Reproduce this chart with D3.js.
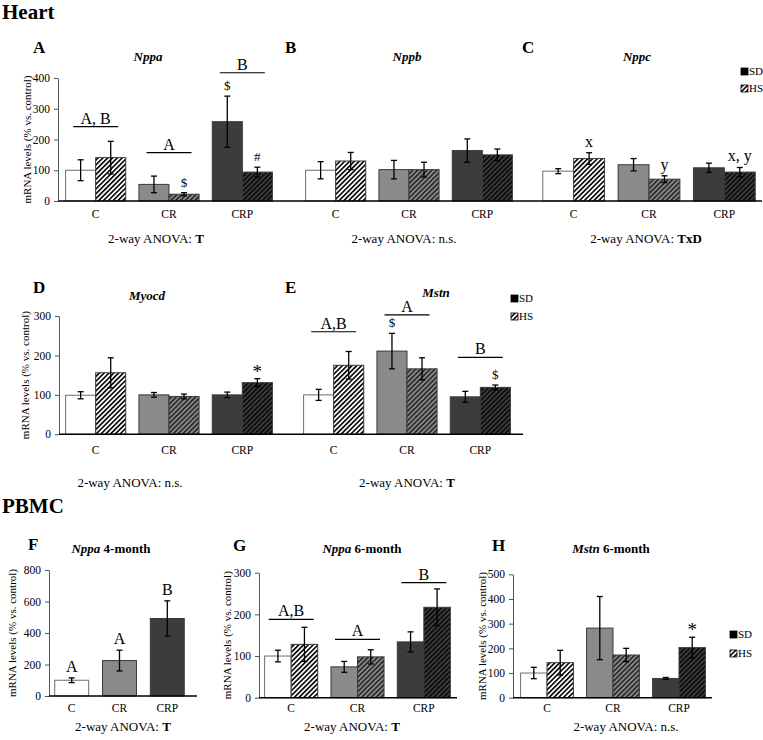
<!DOCTYPE html>
<html lang="en">
<head>
<meta charset="UTF-8">
<title>Heart and PBMC mRNA levels</title>
<script src="https://cdn.jsdelivr.net/npm/d3@7"></script>
<style>
  body { margin: 0; background: #fff; }
  svg { display: block; font-family: "Liberation Serif", "Times New Roman", serif; }
</style>
</head>
<body>
<div id="chart"></div>
<script>
  const groups = ["C", "CR", "CRP"];
  const diets = ["SD", "HS"];

  // Heart (mean and error, % vs. control)
  const nppaSD = [100, 54, 258], nppaSDErr = [34, 27, 83];
  const nppaHS = [141, 22, 94], nppaHSErr = [53, 5, 16];
  const nppbSD = [100, 102, 164], nppbSDErr = [28, 30, 38];
  const nppbHS = [130, 102, 150], nppbHSErr = [28, 24, 19];
  const nppcSD = [97, 118, 108], nppcSDErr = [8, 20, 15];
  const nppcHS = [138, 71, 94], nppcHSErr = [19, 11, 15];
  const myocdSD = [99, 100, 100], myocdSDErr = [9, 6, 7];
  const myocdHS = [156, 96, 131], myocdHSErr = [38, 6, 10];
  const mstnSD = [100, 211, 95], mstnSDErr = [14, 45, 14];
  const mstnHS = [175, 166, 119], mstnHSErr = [35, 28, 6];

  // PBMC
  const nppa4m = [100, 225, 492], nppa4mErr = [15, 66, 112];
  const nppa6mSD = [100, 74, 134], nppa6mSDErr = [14, 13, 24];
  const nppa6mHS = [128, 98, 217], nppa6mHSErr = [41, 17, 44];
  const mstn6mSD = [100, 282, 78], mstn6mSDErr = [23, 128, 4];
  const mstn6mHS = [142, 173, 203], mstn6mHSErr = [50, 27, 42];

  // y-axis ticks
  const ticks400 = [0, 100, 200, 300, 400];
  const ticks300 = [0, 100, 200, 300];
  const ticks500 = [0, 100, 200, 300, 400, 500];
  const ticks800 = [0, 200, 400, 600, 800];

  // group letters over brackets: [group, text, bracket level]
  const nppaLetters = [["C", "A, B", 242], ["CR", "A", 157], ["CRP", "B", 417]];
  const mstnLetters = [["C", "A,B", 260], ["CR", "A", 303], ["CRP", "B", 195]];
  const nppa6mLetters = [["C", "A,B", 188], ["CR", "A", 140], ["CRP", "B", 276]];
  // marks over single bars: [group, diet, text]
  const nppa4mMarks = [["C", "SD", "A"], ["CR", "SD", "A"], ["CRP", "SD", "B"]];
  const nppaMarks = [["CR", "HS", "$"], ["CRP", "SD", "$"], ["CRP", "HS", "#"]];
  const nppcMarks = [["C", "HS", "x"], ["CR", "HS", "y"], ["CRP", "HS", "x, y"]];
  const myocdMarks = [["CRP", "HS", "*"]];
  const mstnMarks = [["CR", "SD", "$"], ["CRP", "HS", "$"]];
  const mstn6mMarks = [["CRP", "HS", "*"]];

  const width = 763, height = 740;
  const svg = d3.select("#chart").append("svg")
      .attr("width", width)
      .attr("height", height)
      .attr("font-family", "'Liberation Serif', 'Times New Roman', serif");

  // hatch patterns for the HS bars
  const defs = svg.append("defs");
  [["C", "#ffffff", "#000000"], ["CR", "#8a8a8a", "#262626"], ["CRP", "#3c3c3c", "#0a0a0a"]].forEach(([k, bg, fg]) => {
    const p = defs.append("pattern")
        .attr("id", "hatch-" + k)
        .attr("patternUnits", "userSpaceOnUse")
        .attr("width", 3.4).attr("height", 3.4)
        .attr("patternTransform", "rotate(45)");
    p.append("rect").attr("width", 3.4).attr("height", 3.4).attr("fill", bg);
    p.append("rect").attr("width", 1.6).attr("height", 3.4).attr("fill", fg);
  });

  const fills = {
    SD: {C: "#ffffff", CR: "#8a8a8a", CRP: "#3c3c3c"},
    HS: {C: "url(#hatch-C)", CR: "url(#hatch-CR)", CRP: "url(#hatch-CRP)"}
  };

  function panel(cfg) {
    const g = svg.append("g");
    const y = d3.scaleLinear().domain([0, cfg.max]).range([cfg.base, cfg.top]);
    const x0 = d3.scaleBand().domain(groups).range(cfg.xr)
        .paddingInner(cfg.pi ?? 0.18).paddingOuter(cfg.po ?? 0.09);
    const keys = cfg.series.map(s => s.key);
    const x1 = d3.scaleBand().domain(keys).range([0, x0.bandwidth()]);

    const rows = [];
    cfg.series.forEach(s => groups.forEach((gr, i) =>
      rows.push({group: gr, key: s.key, v: s.values[i], e: s.err[i]})));

    g.append("g").selectAll("rect").data(rows).join("rect")
        .attr("x", d => x0(d.group) + x1(d.key))
        .attr("y", d => y(d.v))
        .attr("width", x1.bandwidth())
        .attr("height", d => y(0) - y(d.v))
        .attr("fill", d => fills[d.key][d.group])
        .attr("stroke", d => d.group === "C" && d.key === "SD" ? "#6e6e6e" : "#3a3a3a")
        .attr("stroke-width", 1);

    // error bars
    const eb = g.append("g").attr("stroke", "#000").attr("stroke-width", 1.3)
        .selectAll("g").data(rows).join("g")
        .attr("transform", d => `translate(${x0(d.group) + x1(d.key) + x1.bandwidth() / 2},0)`);
    eb.append("line").attr("y1", d => y(d.v + d.e)).attr("y2", d => y(Math.max(0, d.v - d.e)));
    eb.append("line").attr("x1", -3).attr("x2", 3).attr("y1", d => y(d.v + d.e)).attr("y2", d => y(d.v + d.e));
    eb.append("line").attr("x1", -3).attr("x2", 3).attr("y1", d => y(d.v - d.e)).attr("y2", d => y(d.v - d.e));

    // y axis
    if (cfg.ticks) {
      const ax = g.append("g")
          .attr("transform", `translate(${cfg.axisX},0)`)
          .call(d3.axisLeft(y).tickValues(cfg.ticks).tickSize(4).tickPadding(4).tickSizeOuter(0));
      ax.attr("font-family", null);
      ax.select(".domain").attr("stroke", "#555");
      ax.selectAll(".tick line").attr("stroke", "#555");
      ax.selectAll("text").attr("font-size", 11.5).attr("fill", "#000");
      g.append("text")
          .attr("transform", `translate(${cfg.yTitleX},${(cfg.top + cfg.base) / 2}) rotate(-90)`)
          .attr("text-anchor", "middle").attr("dy", "0.32em")
          .attr("font-size", 11)
          .text("mRNA levels (% vs. control)");
    }

    // baseline
    g.append("line")
        .attr("x1", cfg.line[0]).attr("x2", cfg.line[1])
        .attr("y1", y(0)).attr("y2", y(0))
        .attr("stroke", "#000").attr("stroke-width", 1.6);

    // category labels
    g.append("g").selectAll("text").data(groups).join("text")
        .attr("x", d => x0(d) + x0.bandwidth() / 2)
        .attr("y", cfg.labelY)
        .attr("text-anchor", "middle")
        .attr("font-size", 11.5)
        .text(d => d);

    // bracket letters
    (cfg.letters || []).forEach(([gr, txt, lvl]) => {
      const cx = x0(gr) + x0.bandwidth() / 2;
      g.append("line").attr("x1", cx - 22.5).attr("x2", cx + 22.5)
          .attr("y1", y(lvl)).attr("y2", y(lvl))
          .attr("stroke", "#000").attr("stroke-width", 1.2);
      g.append("text").attr("x", cx).attr("y", y(lvl) - 3)
          .attr("text-anchor", "middle").attr("font-size", 16).text(txt);
    });

    // marks over bars
    const byKey = {};
    rows.forEach(r => byKey[r.group + r.key] = r);
    (cfg.marks || []).forEach(([gr, key, txt]) => {
      const r = byKey[gr + key];
      const big = txt === "*";
      g.append("text")
          .attr("x", x0(gr) + x1(key) + x1.bandwidth() / 2)
          .attr("y", y(r.v + r.e) - (big ? 1 : 6))
          .attr("text-anchor", "middle")
          .attr("fill", "#000")
          .attr("font-size", big ? 19 : (txt === "$" || txt === "#" ? 13 : 16))
          .text(txt);
    });

    // panel letter and title
    g.append("text").attr("x", cfg.letter[0]).attr("y", cfg.letter[1])
        .attr("font-size", 17).attr("font-weight", "bold").text(cfg.letter[2]);
    const t = g.append("text").attr("x", cfg.title[0]).attr("y", cfg.title[1])
        .attr("text-anchor", "middle").attr("font-size", 13).attr("font-weight", "bold");
    t.append("tspan").attr("font-style", "italic").text(cfg.title[2]);
    if (cfg.title[3]) t.append("tspan").text(" " + cfg.title[3]);

    // ANOVA note
    const a = g.append("text").attr("x", cfg.anova[0]).attr("y", cfg.anova[1])
        .attr("text-anchor", "middle").attr("font-size", 13);
    a.append("tspan").text("2-way ANOVA: ");
    a.append("tspan").attr("font-weight", cfg.anova[3] ? "bold" : null).text(cfg.anova[2]);
  }

  function legend(x, ys) {
    const g = svg.append("g");
    diets.forEach((d, i) => {
      g.append("rect").attr("x", x).attr("y", ys[i] - 7).attr("width", 7).attr("height", 7)
          .attr("fill", d === "SD" ? "#000" : "url(#hatch-C)")
          .attr("stroke", "#000").attr("stroke-width", 0.8);
      g.append("text").attr("x", x + 8).attr("y", ys[i]).attr("font-size", 11).text(d);
    });
  }

  const ser = (sd, sdE, hs, hsE) => [{key: "SD", values: sd, err: sdE}, {key: "HS", values: hs, err: hsE}];

  // section titles
  svg.append("text").attr("x", 2).attr("y", 19).attr("font-size", 21).attr("font-weight", "bold").text("Heart");
  svg.append("text").attr("x", 2).attr("y", 513).attr("font-size", 21).attr("font-weight", "bold").text("PBMC");

  // top row
  const top1 = {top: 78, base: 201, max: 400, labelY: 218};
  panel({...top1, xr: [59, 279], axisX: 58, ticks: ticks400, yTitleX: 27, line: [58, 299],
    series: ser(nppaSD, nppaSDErr, nppaHS, nppaHSErr), letters: nppaLetters, marks: nppaMarks,
    letter: [33, 53, "A"], title: [148, 61, "Nppa"], anova: [156, 243, "T", true]});
  panel({...top1, xr: [299, 519], line: [299, 536],
    series: ser(nppbSD, nppbSDErr, nppbHS, nppbHSErr),
    letter: [285, 53, "B"], title: [407, 61, "Nppb"], anova: [404, 243, "n.s.", false]});
  panel({...top1, xr: [536, 762], line: [536, 762],
    series: ser(nppcSD, nppcSDErr, nppcHS, nppcHSErr), marks: nppcMarks,
    letter: [522, 53, "C"], title: [637, 61, "Nppc"], anova: [646, 243, "TxD", true]});
  legend(741, [75, 92]);

  // middle row
  const mid = {top: 316, base: 434.3, max: 300, labelY: 454};
  panel({...mid, xr: [59, 279], axisX: 59, ticks: ticks300, yTitleX: 25, line: [59, 297],
    series: ser(myocdSD, myocdSDErr, myocdHS, myocdHSErr), marks: myocdMarks,
    letter: [33, 293, "D"], title: [147, 300, "Myocd"], anova: [130, 487, "n.s.", false]});
  panel({...mid, xr: [297, 517], line: [297, 523],
    series: ser(mstnSD, mstnSDErr, mstnHS, mstnHSErr), letters: mstnLetters, marks: mstnMarks,
    letter: [285, 293, "E"], title: [436, 297, "Mstn"], anova: [407, 487, "T", true]});
  legend(511, [302, 320]);

  // bottom row
  panel({top: 570, base: 696, max: 800, labelY: 712, xr: [49, 190], pi: 0.29, po: 0.12,
    axisX: 49, ticks: ticks800, yTitleX: 12, line: [49, 197],
    series: [{key: "SD", values: nppa4m, err: nppa4mErr}], marks: nppa4mMarks,
    letter: [28, 550, "F"], title: [111, 553, "Nppa", "4-month"], anova: [123, 731, "T", true]});
  panel({top: 572.7, base: 697.7, max: 300, labelY: 712, xr: [258, 457], pi: 0.2, po: 0.1,
    axisX: 259, ticks: ticks300, yTitleX: 227, line: [259, 457],
    series: ser(nppa6mSD, nppa6mSDErr, nppa6mHS, nppa6mHSErr), letters: nppa6mLetters,
    letter: [233, 551, "G"], title: [362, 553, "Nppa", "6-month"], anova: [352, 731, "T", true]});
  panel({top: 574.3, base: 697.7, max: 500, labelY: 712, xr: [514, 712], pi: 0.2, po: 0.1,
    axisX: 513, ticks: ticks500, yTitleX: 482, line: [513, 712],
    series: ser(mstn6mSD, mstn6mSDErr, mstn6mHS, mstn6mHSErr), marks: mstn6mMarks,
    letter: [492, 551, "H"], title: [611, 553, "Mstn", "6-month"], anova: [626, 731, "n.s.", false]});
  legend(730, [638, 657]);
</script>
</body>
</html>
